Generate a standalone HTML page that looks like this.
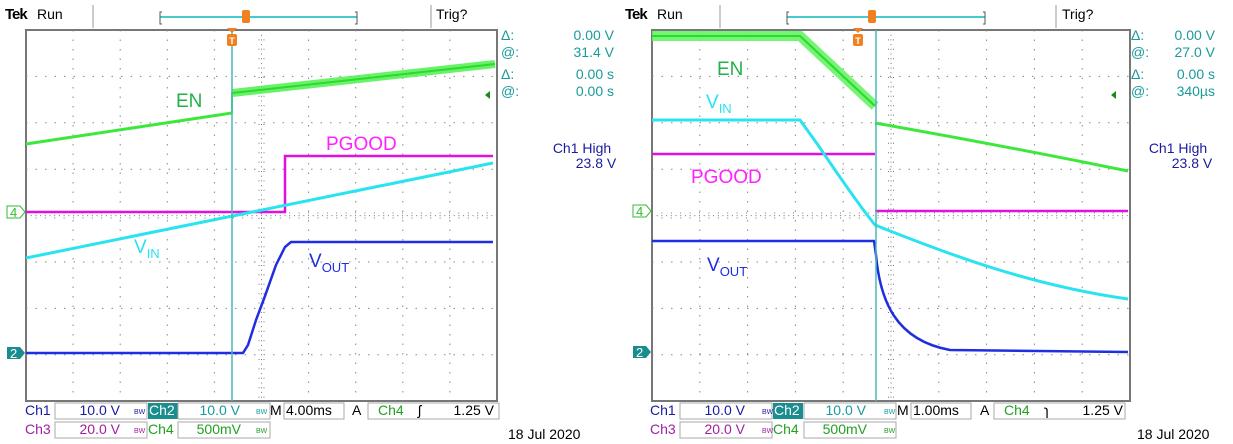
<!DOCTYPE html>
<html><head><meta charset="utf-8"><style>
body{margin:0;background:#fff;}
svg{display:block;font-family:"Liberation Sans","DejaVu Sans",sans-serif;}
</style></head><body>
<svg width="1233" height="444" viewBox="0 0 1233 444" xmlns="http://www.w3.org/2000/svg">
<defs>
<g id="hdr">
  <text x="5" y="19" font-size="15" font-weight="bold" fill="#000" letter-spacing="-1">Tek</text>
  <text x="37" y="19" font-size="14" fill="#000">Run</text>
</g>
</defs>

<!-- ============ LEFT PANEL ============ -->
<use href="#hdr"/>
<line x1="93" y1="5" x2="93" y2="28" stroke="#999"/>
<line x1="160" y1="17" x2="357" y2="17" stroke="#4cc" stroke-width="2"/>
<path d="M162,12 h-2 v12 h2 M355,12 h2 v12 h-2" fill="none" stroke="#555"/>
<rect x="242" y="10" width="8" height="13" fill="#f08020" rx="2"/>
<line x1="431" y1="5" x2="431" y2="28" stroke="#999"/>
<text x="436" y="19" font-size="14" fill="#000">Trig?</text>

<rect x="26" y="30" width="471" height="371" fill="#fff" stroke="#777" stroke-width="2"/>
<g stroke="#888" stroke-width="1" stroke-dasharray="1.5,8">
  <path d="M73.1,30V401M120.2,30V401M167.3,30V401M214.4,30V401M308.6,30V401M355.7,30V401M402.8,30V401M449.9,30V401"/>
  <path d="M26,76.4H497M26,122.8H497M26,169.2H497M26,262H497M26,308.4H497M26,354.8H497"/>
</g>
<g stroke="#777" stroke-width="1" stroke-dasharray="1,3.7">
  <path d="M261.5,30V401M26,215.6H497"/>
</g>
<g stroke="#777" stroke-width="1" stroke-dasharray="1,8.4">
  <path d="M259,30V401M264,30V401M26,213H497M26,218H497"/>
</g>
<!-- traces -->
<path d="M26,144 L232,113" stroke="#3de83d" stroke-width="3" fill="none"/>
<path d="M232,113 V92" stroke="#3de83d" stroke-width="2"/>
<path d="M232,93 L495,64" stroke="#4ef04e" stroke-width="8" fill="none" opacity="0.85"/>
<path d="M232,93 L495,64" stroke="#2ed82e" stroke-width="2" fill="none"/>
<path d="M26,212 H285 V156 H493" stroke="#e010e0" stroke-width="2.5" fill="none"/>
<path d="M26,258 L493,163" stroke="#29e3f0" stroke-width="3" fill="none"/>
<path d="M26,353 H243 L248,345 L256,320 L265,296 L276,265 L285,247 L291,242 H493" stroke="#1f2ee0" stroke-width="2.5" fill="none"/>
<line x1="232" y1="30" x2="232" y2="401" stroke="#4bb8b8" stroke-width="1.5"/>
<path d="M227,28 h10 l-5,5z" fill="#f08020"/>
<rect x="227" y="34" width="10" height="12" rx="2" fill="#f08020"/>
<text x="232" y="44" font-size="9" fill="#fff" text-anchor="middle" font-weight="bold">T</text>
<path d="M485,95 l5,-4 v8z" fill="#1a8a1a"/>
<!-- labels -->
<text x="176" y="107" font-size="19" fill="#22b04a">EN</text>
<text x="326" y="150" font-size="19" fill="#ff22ff">PGOOD</text>
<text x="134" y="253" font-size="19" fill="#29e3f0">V<tspan font-size="13" dy="5">IN</tspan></text>
<text x="309" y="267" font-size="19" fill="#1f2ee0">V<tspan font-size="13" dy="5">OUT</tspan></text>
<!-- markers -->
<path d="M7,206 h13 l5,6 l-5,6 h-13z" fill="#fff" stroke="#3b3" />
<text x="10" y="217" font-size="13" fill="#3b3">4</text>
<path d="M7,347 h13 l5,6 l-5,6 h-13z" fill="#1a8e8e"/>
<text x="10" y="358" font-size="13" fill="#fff">2</text>
<!-- readouts -->
<g font-size="14" fill="#1a9a9a">
<text x="501" y="40">Δ:</text><text x="614" y="40" text-anchor="end">0.00 V</text>
<text x="501" y="57">@:</text><text x="614" y="57" text-anchor="end">31.4 V</text>
<text x="501" y="79">Δ:</text><text x="614" y="79" text-anchor="end">0.00 s</text>
<text x="501" y="96">@:</text><text x="614" y="96" text-anchor="end">0.00 s</text>
</g>
<text x="582" y="153" font-size="14" fill="#1a1aa0" text-anchor="middle">Ch1 High</text>
<text x="596" y="168" font-size="14" fill="#1a1aa0" text-anchor="middle">23.8 V</text>
<!-- bottom -->
<g font-size="14">
<text x="25" y="415" fill="#1a1aa0">Ch1</text>
<rect x="55" y="403" width="92" height="16" fill="none" stroke="#aaa"/>
<text x="120" y="415" fill="#1a1aa0" text-anchor="end">10.0 V</text>
<text x="134" y="414" font-size="7" fill="#1a1aa0">BW</text>
<rect x="148" y="403" width="30" height="16" fill="#1a8e8e"/>
<text x="149" y="415" fill="#fff">Ch2</text>
<rect x="178" y="403" width="92" height="16" fill="none" stroke="#aaa"/>
<text x="240" y="415" fill="#1a9a9a" text-anchor="end">10.0 V</text>
<text x="256" y="414" font-size="7" fill="#1a9a9a">BW</text>
<text x="270" y="415" fill="#000">M</text>
<rect x="284" y="403" width="60" height="16" fill="none" stroke="#aaa"/>
<text x="286" y="415" fill="#000">4.00ms</text>
<text x="352" y="415" fill="#000">A</text>
<rect x="368" y="403" width="131" height="16" fill="none" stroke="#aaa"/>
<text x="378" y="415" fill="#22a022">Ch4</text>
<text x="418" y="415" fill="#000">ʃ</text>
<text x="494" y="415" fill="#000" text-anchor="end">1.25 V</text>
<text x="25" y="434" fill="#a020a0">Ch3</text>
<rect x="55" y="422" width="92" height="16" fill="none" stroke="#aaa"/>
<text x="120" y="434" fill="#a020a0" text-anchor="end">20.0 V</text>
<text x="134" y="433" font-size="7" fill="#a020a0">BW</text>
<text x="148" y="434" fill="#22a022">Ch4</text>
<rect x="178" y="422" width="92" height="16" fill="none" stroke="#aaa"/>
<text x="241" y="434" fill="#22a022" text-anchor="end">500mV</text>
<text x="256" y="433" font-size="7" fill="#22a022">BW</text>
<text x="508" y="439" fill="#000">18 Jul  2020</text>
</g>

<!-- ============ RIGHT PANEL ============ -->
<use href="#hdr" x="620"/>
<line x1="720" y1="5" x2="720" y2="28" stroke="#999"/>
<line x1="787" y1="17" x2="985" y2="17" stroke="#4cc" stroke-width="2"/>
<path d="M789,12 h-2 v12 h2 M983,12 h2 v12 h-2" fill="none" stroke="#555"/>
<rect x="868" y="10" width="8" height="13" fill="#f08020" rx="2"/>
<line x1="1056" y1="5" x2="1056" y2="28" stroke="#999"/>
<text x="1062" y="19" font-size="14" fill="#000">Trig?</text>

<rect x="652" y="30" width="478" height="371" fill="#fff" stroke="#777" stroke-width="2"/>
<g stroke="#888" stroke-width="1" stroke-dasharray="1.5,8">
  <path d="M699.8,30V401M747.6,30V401M795.4,30V401M843.2,30V401M938.8,30V401M986.6,30V401M1034.4,30V401M1082.2,30V401"/>
  <path d="M652,76.4H1130M652,122.8H1130M652,169.2H1130M652,262H1130M652,308.4H1130M652,354.8H1130"/>
</g>
<g stroke="#777" stroke-width="1" stroke-dasharray="1,3.7">
  <path d="M891,30V401M652,215.6H1130"/>
</g>
<g stroke="#777" stroke-width="1" stroke-dasharray="1,8.4">
  <path d="M888.5,30V401M893.5,30V401M652,213H1130M652,218H1130"/>
</g>
<path d="M652,36 H800 L875,106" stroke="#5ef25e" stroke-width="10" fill="none" opacity="0.85"/>
<path d="M652,36 H800 L875,106" stroke="#2ed82e" stroke-width="2" fill="none"/>
<path d="M875,123 Q1000,145 1128,171" stroke="#3de83d" stroke-width="3" fill="none"/>
<path d="M652,154 H875" stroke="#e010e0" stroke-width="2.5"/>
<path d="M875,211 H1128" stroke="#e010e0" stroke-width="2.5"/>
<path d="M652,120 H800 L818,145 C835,170 855,200 875,225 C950,255 1030,285 1128,299" stroke="#29e3f0" stroke-width="3" fill="none"/>
<path d="M652,241 H874 L876,255 C880,300 895,340 950,350 L1128,352" stroke="#1f2ee0" stroke-width="2.5" fill="none"/>
<line x1="876" y1="30" x2="876" y2="401" stroke="#4bb8b8" stroke-width="1.5"/>
<path d="M853,28 h10 l-5,5z" fill="#f08020"/>
<rect x="853" y="34" width="10" height="12" rx="2" fill="#f08020"/>
<text x="858" y="44" font-size="9" fill="#fff" text-anchor="middle" font-weight="bold">T</text>
<path d="M1111,95 l5,-4 v8z" fill="#1a8a1a"/>
<text x="717" y="75" font-size="19" fill="#22b04a">EN</text>
<text x="706" y="108" font-size="19" fill="#29e3f0">V<tspan font-size="13" dy="5">IN</tspan></text>
<text x="691" y="183" font-size="19" fill="#ff22ff">PGOOD</text>
<text x="707" y="271" font-size="19" fill="#1f2ee0">V<tspan font-size="13" dy="5">OUT</tspan></text>
<path d="M633,205 h13 l5,6 l-5,6 h-13z" fill="#fff" stroke="#3b3"/>
<text x="636" y="216" font-size="13" fill="#3b3">4</text>
<path d="M633,346 h13 l5,6 l-5,6 h-13z" fill="#1a8e8e"/>
<text x="636" y="357" font-size="13" fill="#fff">2</text>
<g font-size="14" fill="#1a9a9a">
<text x="1131" y="40">Δ:</text><text x="1215" y="40" text-anchor="end">0.00 V</text>
<text x="1131" y="57">@:</text><text x="1215" y="57" text-anchor="end">27.0 V</text>
<text x="1131" y="79">Δ:</text><text x="1215" y="79" text-anchor="end">0.00 s</text>
<text x="1131" y="96">@:</text><text x="1215" y="96" text-anchor="end">340µs</text>
</g>
<text x="1178" y="153" font-size="14" fill="#1a1aa0" text-anchor="middle">Ch1 High</text>
<text x="1192" y="168" font-size="14" fill="#1a1aa0" text-anchor="middle">23.8 V</text>
<g font-size="14">
<text x="650" y="415" fill="#1a1aa0">Ch1</text>
<rect x="680" y="403" width="92" height="16" fill="none" stroke="#aaa"/>
<text x="745" y="415" fill="#1a1aa0" text-anchor="end">10.0 V</text>
<text x="762" y="414" font-size="7" fill="#1a1aa0">BW</text>
<rect x="773" y="403" width="30" height="16" fill="#1a8e8e"/>
<text x="774" y="415" fill="#fff">Ch2</text>
<rect x="804" y="403" width="92" height="16" fill="none" stroke="#aaa"/>
<text x="866" y="415" fill="#1a9a9a" text-anchor="end">10.0 V</text>
<text x="884" y="414" font-size="7" fill="#1a9a9a">BW</text>
<text x="897" y="415" fill="#000">M</text>
<rect x="911" y="403" width="60" height="16" fill="none" stroke="#aaa"/>
<text x="913" y="415" fill="#000">1.00ms</text>
<text x="980" y="415" fill="#000">A</text>
<rect x="994" y="403" width="131" height="16" fill="none" stroke="#aaa"/>
<text x="1004" y="415" fill="#22a022">Ch4</text>
<text x="1044" y="415" fill="#000">ɿ</text>
<text x="1123" y="415" fill="#000" text-anchor="end">1.25 V</text>
<text x="650" y="434" fill="#a020a0">Ch3</text>
<rect x="680" y="422" width="92" height="16" fill="none" stroke="#aaa"/>
<text x="745" y="434" fill="#a020a0" text-anchor="end">20.0 V</text>
<text x="762" y="433" font-size="7" fill="#a020a0">BW</text>
<text x="773" y="434" fill="#22a022">Ch4</text>
<rect x="804" y="422" width="92" height="16" fill="none" stroke="#aaa"/>
<text x="867" y="434" fill="#22a022" text-anchor="end">500mV</text>
<text x="884" y="433" font-size="7" fill="#22a022">BW</text>
<text x="1137" y="439" fill="#000">18 Jul  2020</text>
</g>
</svg>
</body></html>
